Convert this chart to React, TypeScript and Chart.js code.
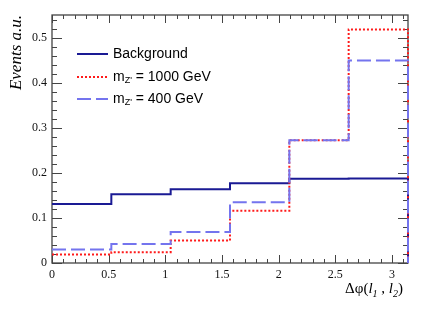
import React, { useEffect, useRef } from "react";
import { Chart, registerables } from "chart.js";

Chart.register(...registerables);

const binEdges = [0, 0.5236, 1.0472, 1.5708, 2.0944, 2.618, 3.1416];
const background = [0.131, 0.153, 0.164, 0.177, 0.187, 0.188];
const mz1000 = [0.019, 0.024, 0.05, 0.116, 0.273, 0.519];
const mz400 = [0.03, 0.042, 0.069, 0.135, 0.273, 0.45];
const xTickValues = [0, 0.5, 1, 1.5, 2, 2.5, 3];
const yTickValues = [0, 0.1, 0.2, 0.3, 0.4, 0.5];
const X_MAX = 3.1416;
const Y_MAX = 0.551;

function histPoints(vals: number[]) {
  const pts: { x: number; y: number }[] = [];
  vals.forEach((v, i) => pts.push({ x: binEdges[i], y: v }));
  pts.push({ x: binEdges[binEdges.length - 1], y: vals[vals.length - 1] });
  pts.push({ x: binEdges[binEdges.length - 1], y: 0 });
  return pts;
}

const C_BG = "#1a1a94";
const C_1000 = "#ff1a1a";
const C_400 = "#7474ee";

const framePlugin = {
  id: "frame",
  beforeDatasetsDraw(chart: any) {
    const { ctx, chartArea: a, scales } = chart;
    const xs = scales.x, ys = scales.y;
    ctx.save();
    ctx.strokeStyle = "#444";
    ctx.lineWidth = 1.3;
    ctx.strokeRect(a.left, a.top, a.right - a.left, a.bottom - a.top);
    ctx.lineWidth = 1;
    ctx.beginPath();
    for (let i = 0; i * 0.1 <= X_MAX + 1e-9; i++) {
      const v = i * 0.1;
      const px = Math.round(xs.getPixelForValue(v)) + 0.5;
      const len = i % 5 === 0 ? 8 : 4;
      ctx.moveTo(px, a.bottom);
      ctx.lineTo(px, a.bottom - len);
      ctx.moveTo(px, a.top);
      ctx.lineTo(px, a.top + len);
    }
    for (let i = 0; i * 0.02 <= Y_MAX + 1e-9; i++) {
      const v = i * 0.02;
      const py = Math.round(ys.getPixelForValue(v)) + 0.5;
      const len = i % 5 === 0 ? 10 : 5;
      ctx.moveTo(a.left, py);
      ctx.lineTo(a.left + len, py);
      ctx.moveTo(a.right, py);
      ctx.lineTo(a.right - len, py);
    }
    ctx.stroke();
    ctx.restore();
  },
  afterDraw(chart: any) {
    const { ctx, chartArea: a } = chart;
    ctx.save();
    ctx.fillStyle = "#000";
    ctx.font = "italic 17px 'Liberation Serif', serif";
    ctx.translate(17, a.top);
    ctx.rotate(-Math.PI / 2);
    ctx.textAlign = "right";
    ctx.textBaseline = "middle";
    ctx.fillText("Events a.u.", 0, 0);
    ctx.restore();

    ctx.save();
    ctx.fillStyle = "#000";
    ctx.textBaseline = "alphabetic";
    ctx.textAlign = "left";
    const parts: [string, string, number][] = [
      ["Δφ(", "15px 'Liberation Serif', serif", 0],
      ["l", "italic 15px 'Liberation Serif', serif", 0],
      ["1", "italic 10px 'Liberation Serif', serif", 4],
      [" , ", "15px 'Liberation Serif', serif", 0],
      ["l", "italic 15px 'Liberation Serif', serif", 0],
      ["2", "italic 10px 'Liberation Serif', serif", 4],
      [")", "15px 'Liberation Serif', serif", 0],
    ];
    let w = 0;
    for (const [t, f] of parts) {
      ctx.font = f;
      w += ctx.measureText(t).width;
    }
    let x = 403 - w;
    const base = 293;
    for (const [t, f, dy] of parts) {
      ctx.font = f;
      ctx.fillText(t, x, base + dy);
      x += ctx.measureText(t).width;
    }
    ctx.restore();

    ctx.save();
    const rows = [
      { color: C_BG, dash: [] as number[], y: 54, main: "Background", sub: "", rest: "" },
      { color: C_1000, dash: [2, 2], y: 77, main: "m", sub: "Z'", rest: " = 1000 GeV" },
      { color: C_400, dash: [14, 5], y: 99, main: "m", sub: "Z'", rest: " = 400 GeV" },
    ];
    for (const r of rows) {
      ctx.strokeStyle = r.color;
      ctx.lineWidth = 2;
      ctx.setLineDash(r.dash);
      ctx.beginPath();
      ctx.moveTo(77, r.y);
      ctx.lineTo(108, r.y);
      ctx.stroke();
      ctx.setLineDash([]);
      ctx.fillStyle = "#000";
      ctx.textBaseline = "middle";
      ctx.textAlign = "left";
      let tx = 113;
      ctx.font = "14px 'Liberation Sans', Arial, sans-serif";
      ctx.fillText(r.main, tx, r.y);
      tx += ctx.measureText(r.main).width;
      if (r.sub) {
        ctx.font = "9px 'Liberation Sans', Arial, sans-serif";
        ctx.fillText(r.sub, tx, r.y + 4);
        tx += ctx.measureText(r.sub).width;
        ctx.font = "14px 'Liberation Sans', Arial, sans-serif";
        ctx.fillText(r.rest, tx, r.y);
      }
    }
    ctx.restore();
  },
};

export default function App() {
  const ref = useRef<HTMLCanvasElement | null>(null);
  useEffect(() => {
    document.body.style.margin = "0";
    const canvas = ref.current!;
    const tickFont = { family: "'Liberation Serif', serif", size: 12 };
    const chart = new Chart(canvas, {
      type: "line",
      data: {
        datasets: [
          {
            label: "m_Z' = 400 GeV",
            data: histPoints(mz400),
            borderColor: C_400,
            borderWidth: 2,
            borderDash: [14, 5],
            pointRadius: 0,
            stepped: "before",
            fill: false,
            clip: 4,
          } as any,
          {
            label: "m_Z' = 1000 GeV",
            data: histPoints(mz1000),
            borderColor: C_1000,
            borderWidth: 2,
            borderDash: [2, 2],
            pointRadius: 0,
            stepped: "before",
            fill: false,
            clip: 4,
          } as any,
          {
            label: "Background",
            data: histPoints(background),
            borderColor: C_BG,
            borderWidth: 2,
            pointRadius: 0,
            stepped: "before",
            fill: false,
            clip: 4,
          } as any,
        ],
      },
      options: {
        responsive: false,
        animation: false,
        devicePixelRatio: 1,
        layout: { padding: { left: 0, top: 15, right: 36, bottom: 0 } },
        plugins: { legend: { display: false }, tooltip: { enabled: false } },
        scales: {
          x: {
            type: "linear",
            min: 0,
            max: X_MAX,
            grid: { display: false, drawTicks: false },
            border: { display: false },
            ticks: {
              font: tickFont,
              color: "#111",
              padding: 5,
              maxRotation: 0,
              autoSkip: false,
              callback: (v: any) => String(v),
            },
            afterBuildTicks: (s: any) => {
              s.ticks = xTickValues.map((v) => ({ value: v }));
            },
            afterFit: (s: any) => {
              s.height = 48;
            },
          },
          y: {
            type: "linear",
            min: 0,
            max: Y_MAX,
            grid: { display: false, drawTicks: false },
            border: { display: false },
            ticks: {
              font: tickFont,
              color: "#111",
              padding: 5,
              autoSkip: false,
              callback: (v: any) => String(v),
            },
            afterBuildTicks: (s: any) => {
              s.ticks = yTickValues.map((v) => ({ value: v }));
            },
            afterFit: (s: any) => {
              s.width = 52;
            },
          },
        },
      },
      plugins: [framePlugin],
    });
    return () => chart.destroy();
  }, []);
  return (
    <div style={{ width: 444, height: 311 }}>
      <canvas ref={ref} width={444} height={311} style={{ display: "block" }} />
    </div>
  );
}
